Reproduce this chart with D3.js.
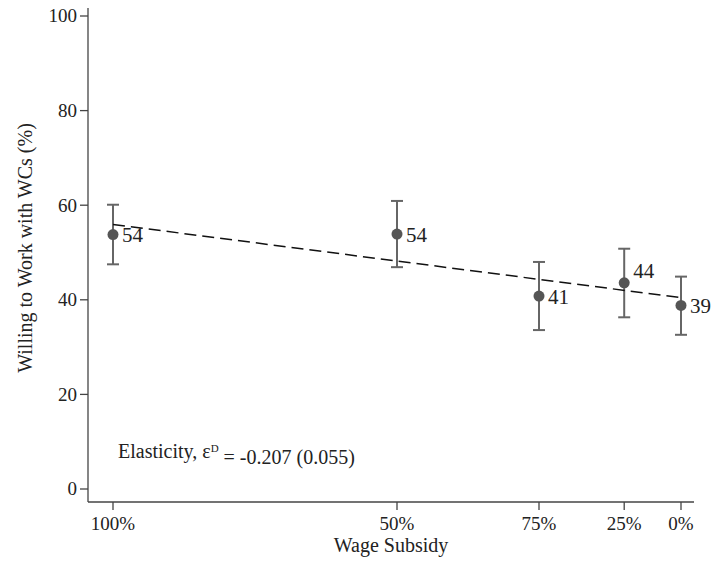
<!DOCTYPE html>
<html>
<head>
<meta charset="utf-8">
<script src="https://cdn.jsdelivr.net/npm/d3@7"></script>
<style>
  body { margin: 0; background: #fff; }
</style>
</head>
<body>
<div id="chart"></div>
<script>
// subsidy arms, placed on the x axis by their position value
var subsidyLabels = ["100%", "50%", "75%", "25%", "0%"];
var subsidyPos = [0, 0.5, 0.75, 0.9, 1.0];
// share willing to work with WCs (%), with 95% CI
var meanVals = [53.8, 53.9, 40.8, 43.6, 38.8];
var ciLow = [47.5, 46.9, 33.6, 36.3, 32.6];
var ciHigh = [60.1, 60.9, 48.0, 50.8, 44.9];
var pointLabels = ["54", "54", "41", "44", "39"];
var yTicks = [0, 20, 40, 60, 80, 100];
var note = { pre: "Elasticity, \u03b5", sup: "D", post: " = -0.207 (0.055)" };

// clock position of each marker label (3 = right, 1 = upper right)
var labelClock = [3, 3, 3, 1, 3];

var W = 711, H = 562;
var margin = {top: 16, right: 17, bottom: 73, left: 88};
var FONT = "'Liberation Serif', 'Times New Roman', 'DejaVu Serif', serif";

var svg = d3.select("#chart").append("svg")
    .attr("width", W).attr("height", H)
    .attr("font-family", FONT)
    .style("font-family", FONT);

var x = d3.scaleLinear().domain([0, 1]).range([113, 681]);
var y = d3.scaleLinear().domain([0, 100]).range([489, 16]);
var axisY = 502;

var data = subsidyPos.map(function(p, i) {
    return {x: p, m: meanVals[i], lo: ciLow[i], hi: ciHigh[i], lab: pointLabels[i], pos: labelClock[i]};
});

// linear fit through the points
var mx = d3.mean(data, function(d) { return d.x; });
var my = d3.mean(data, function(d) { return d.m; });
var sxy = d3.sum(data, function(d) { return (d.x - mx) * (d.m - my); });
var sxx = d3.sum(data, function(d) { return (d.x - mx) * (d.x - mx); });
var slope = sxy / sxx, icpt = my - slope * mx;

// axes
svg.append("line")
    .attr("x1", margin.left).attr("x2", margin.left)
    .attr("y1", 8).attr("y2", axisY)
    .attr("stroke", "#444").attr("stroke-width", 1.3);
svg.append("line")
    .attr("x1", margin.left).attr("x2", W - margin.right)
    .attr("y1", axisY).attr("y2", axisY)
    .attr("stroke", "#444").attr("stroke-width", 1.3);

var yg = svg.append("g");
yTicks.forEach(function(t) {
    yg.append("line")
        .attr("x1", margin.left - 8).attr("x2", margin.left)
        .attr("y1", y(t)).attr("y2", y(t))
        .attr("stroke", "#444").attr("stroke-width", 1.3);
    yg.append("text")
        .attr("x", margin.left - 11).attr("y", y(t))
        .attr("dy", "0.34em")
        .attr("text-anchor", "end")
        .attr("fill", "#222")
        .style("font-size", "19px")
        .text(t);
});

var xg = svg.append("g");
data.forEach(function(d, i) {
    xg.append("line")
        .attr("x1", x(d.x)).attr("x2", x(d.x))
        .attr("y1", axisY).attr("y2", axisY + 8)
        .attr("stroke", "#444").attr("stroke-width", 1.3);
    xg.append("text")
        .attr("x", x(d.x)).attr("y", axisY + 28)
        .attr("text-anchor", "middle")
        .attr("fill", "#222")
        .style("font-size", "19px")
        .text(subsidyLabels[i]);
});

svg.append("text")
    .attr("x", (margin.left + W - margin.right) / 2)
    .attr("y", axisY + 50)
    .attr("text-anchor", "middle")
    .attr("fill", "#222")
    .style("font-size", "20px")
    .text("Wage Subsidy");

svg.append("text")
    .attr("transform", "translate(32," + 248 + ") rotate(-90)")
    .attr("text-anchor", "middle")
    .attr("fill", "#222")
    .style("font-size", "20px")
    .text("Willing to Work with WCs (%)");

// error bars
var eb = svg.append("g").attr("stroke", "#666").attr("stroke-width", 2);
data.forEach(function(d) {
    var cx = x(d.x);
    eb.append("line").attr("x1", cx).attr("x2", cx).attr("y1", y(d.lo)).attr("y2", y(d.hi));
    eb.append("line").attr("x1", cx - 6).attr("x2", cx + 6).attr("y1", y(d.lo)).attr("y2", y(d.lo));
    eb.append("line").attr("x1", cx - 6).attr("x2", cx + 6).attr("y1", y(d.hi)).attr("y2", y(d.hi));
});

// fitted line
svg.append("line")
    .attr("x1", x(0)).attr("y1", y(icpt))
    .attr("x2", x(1)).attr("y2", y(icpt + slope))
    .attr("stroke", "#111").attr("stroke-width", 1.5)
    .attr("stroke-dasharray", "12,6");

// markers and labels
svg.selectAll("circle.pt").data(data).enter().append("circle")
    .attr("class", "pt")
    .attr("cx", function(d) { return x(d.x); })
    .attr("cy", function(d) { return y(d.m); })
    .attr("r", 5.5)
    .attr("fill", "#555");

svg.selectAll("text.pl").data(data).enter().append("text")
    .attr("class", "pl")
    .attr("x", function(d) { return x(d.x) + 9; })
    .attr("y", function(d) { return y(d.m) + (d.pos === 1 ? -12 : 0); })
    .attr("dy", "0.36em")
    .attr("fill", "#222")
    .style("font-size", "21px")
    .text(function(d) { return d.lab; });

// elasticity note
var nt = svg.append("text")
    .attr("x", x(0) + 5).attr("y", y(8))
    .attr("dy", "0.36em")
    .attr("fill", "#222")
    .style("font-size", "20px");
nt.append("tspan").text(note.pre);
nt.append("tspan").attr("dy", "-0.6em").style("font-size", "11px").text(note.sup);
nt.append("tspan").attr("dy", "0.6em").text(note.post);
</script>
</body>
</html>
